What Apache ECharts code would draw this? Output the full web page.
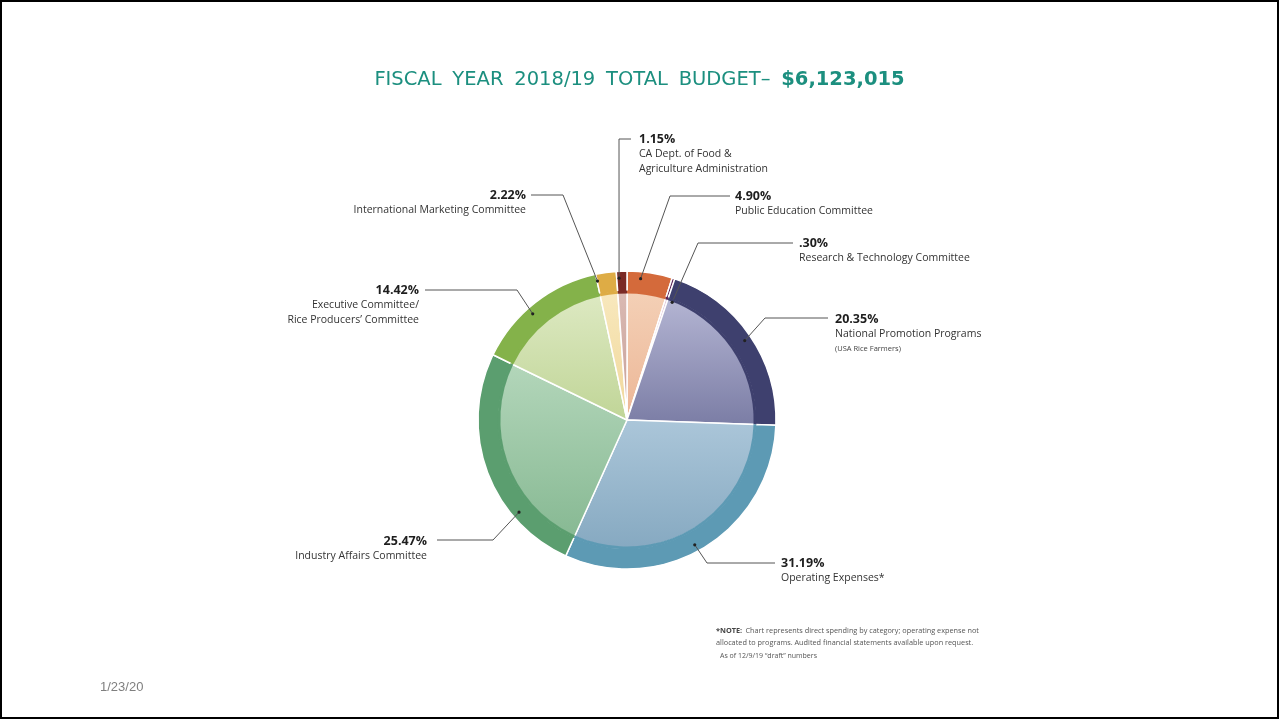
<!DOCTYPE html>
<html><head><meta charset="utf-8">
<script src="https://cdn.jsdelivr.net/npm/echarts@6/dist/echarts.min.js"></script>
<style>html,body{margin:0;padding:0;background:#fff}#c{width:1279px;height:719px}</style>
</head><body><div id="c"></div>
<script>
// ---- data ----
const categories = [
  'Public Education Committee',
  'Research & Technology Committee',
  'National Promotion Programs',
  'Operating Expenses*',
  'Industry Affairs Committee',
  'Executive Committee/\nRice Producers\u2019 Committee',
  'International Marketing Committee',
  'CA Dept. of Food &\nAgriculture Administration'
];
const subNotes = ['', '', '(USA Rice Farmers)', '', '', '', '', ''];
const shares = [4.90, 0.30, 20.35, 31.19, 25.47, 14.42, 2.22, 1.15];
const titleWords = ['FISCAL', 'YEAR', '2018/19', 'TOTAL', 'BUDGET\u2013'];
const totalText = '$6,123,015';
const noteLines = ['Chart represents direct spending by category; operating expense not',
  'allocated to programs. Audited financial statements available upon request.'];
const asOfText = 'As of 12/9/19 \u201cdraft\u201d numbers';
const dateText = '1/23/20';

// ---- styles / layout ----
const ringColors = ['#d46a3b','#5a2458','#3e406e','#5d9ab4','#5b9e6f','#84b24a','#deac45','#7b2a26'];
const innerTop =    ['#f4d0b6','#dcc0d6','#b4b5d3','#abc6d9','#b3d6ba','#dde9c2','#f8e8bd','#dabab3'];
const innerBottom = ['#ecb696','#cfa9c5','#7b7da5','#86a9c1','#87b993','#c0d597','#f0d79a','#c69e97'];
const CX = 627, CY = 420, R_OUT = 149, R_IN = 128;
const labelSpec = [
  {anchor: 5.5,   r: 142, elbow: [670,196], end: [730,196], x: 735, top: 188.5, align: 'left'},
  {anchor: 21,    r: 126, elbow: [698,243], end: [793,243], x: 799, top: 236,   align: 'left'},
  {anchor: 56,    r: 142, elbow: [765,318], end: [828,318], x: 835, top: 311.5, align: 'left'},
  {anchor: 151.5, r: 142, elbow: [707,563], end: [775,563], x: 781, top: 555.5, align: 'left'},
  {anchor: 229.5, r: 142, elbow: [493,540], end: [437,540], x: 427, top: 533.5, align: 'right'},
  {anchor: 318.4, r: 142, elbow: [517,290], end: [425,290], x: 419, top: 282.5, align: 'right'},
  {anchor: 348,   r: 142, elbow: [563,195], end: [531,195], x: 526, top: 187.5, align: 'right'},
  {anchor: 356.8, r: 142, elbow: [619,139], end: [631,139], x: 639, top: 131.5, align: 'left'}
];
function anchorPt(s) {
  const a = s.anchor * Math.PI / 180;
  return [CX + s.r * Math.sin(a), CY - s.r * Math.cos(a)];
}
function pct(v) { return v < 1 ? v.toFixed(2).replace(/^0/, '') : v.toFixed(2); }

const FONT = '"Open Sans", sans-serif';
const TFONT = '"DejaVu Sans", sans-serif';
const chart = echarts.init(document.getElementById('c'), null, {renderer: 'canvas'});

const ringData = categories.map((n, i) => ({name: n, value: shares[i], itemStyle: {color: ringColors[i]}}));
const innerData = categories.map((n, i) => ({name: n, value: shares[i], itemStyle: {
  color: new echarts.graphic.LinearGradient(0, 0, 0, 1, [{offset: 0, color: innerTop[i]}, {offset: 1, color: innerBottom[i]}])
}}));

const dots = labelSpec.map(s => {
  const p = anchorPt(s);
  return {type: 'circle', z: 100, silent: true, shape: {cx: p[0], cy: p[1], r: 1.6}, style: {fill: '#222'}};
});

const titleRich = titleWords.map((w, i) => '{a|' + w + '}' + (i < titleWords.length - 1 ? '{g| }' : '')).join('') + '{g| }{b|' + totalText + '}';

chart.setOption({
  animation: false,
  backgroundColor: '#fff',
  title: {
    text: titleRich,
    left: 'center', top: 65,
    textStyle: {rich: {
      a: {fontFamily: TFONT, fontSize: 19.5, fontWeight: 'normal', color: '#1c8f7f'},
      g: {fontFamily: TFONT, fontSize: 19.5, color: '#1c8f7f', padding: [0, 2, 0, 2]},
      b: {fontFamily: TFONT, fontSize: 19.5, fontWeight: 'bold', color: '#1c8f7f'}
    }}
  },
  series: [
    {
      type: 'pie', z: 1, silent: true, center: [CX, CY], radius: [0, R_IN], startAngle: 90, clockwise: true,
      label: {show: false}, labelLine: {show: false},
      itemStyle: {borderColor: '#fff', borderWidth: 1.5},
      data: innerData
    },
    {
      type: 'pie', z: 2, silent: true, center: [CX, CY], radius: [R_IN, R_OUT], startAngle: 90, clockwise: true,
      label: {show: false}, labelLine: {show: false},
      itemStyle: {borderColor: '#fff', borderWidth: 1.5},
      data: ringData
    },
    {
      type: 'pie', z: 3, silent: true, center: [CX, CY], radius: [R_IN - 1.4, R_IN + 1.4], startAngle: 90, clockwise: true,
      itemStyle: {borderWidth: 0},
      data: ringData,
      label: {
        show: true, position: 'outside',
        formatter: function (p) {
          const i = p.dataIndex;
          let s = '{p|' + pct(shares[i]) + '%}';
          categories[i].split('\n').forEach(l => { s += '\n{n|' + l + '}'; });
          if (subNotes[i]) s += '\n{s|' + subNotes[i] + '}';
          return s;
        },
        rich: {
          p: {fontFamily: FONT, fontSize: 12.5, fontWeight: 'bold', color: '#1e1e1e', lineHeight: 15},
          n: {fontFamily: FONT, fontSize: 10.5, color: '#333', lineHeight: 15},
          s: {fontFamily: FONT, fontSize: 7.5, color: '#444', lineHeight: 15}
        }
      },
      labelLine: {show: true, length: 10, length2: 10, smooth: false, lineStyle: {color: '#555', width: 1}},
      labelLayout: function (params) {
        const s = labelSpec[params.dataIndex];
        return {
          x: s.x, y: s.top, align: s.align, verticalAlign: 'top',
          labelLinePoints: [anchorPt(s), s.elbow, s.end]
        };
      }
    }
  ],
  graphic: dots.concat([
    {type: 'rect', z: 100, silent: true, shape: {x: 1, y: 1, width: 1277, height: 717},
     style: {fill: 'none', stroke: '#000', lineWidth: 2}},
    {type: 'text', z: 100, silent: true, x: 716, y: 625,
     style: {text: '{b|*NOTE:} {t|' + noteLines[0] + '}\n{t|' + noteLines[1] + '}',
       rich: {b: {fontFamily: FONT, fontSize: 7.3, fontWeight: 'bold', fill: '#444', lineHeight: 11},
              t: {fontFamily: FONT, fontSize: 7.3, fill: '#555', lineHeight: 11}}}},
    {type: 'text', z: 100, silent: true, x: 720, y: 652,
     style: {text: asOfText, fontFamily: FONT, fontSize: 7, fill: '#555'}},
    {type: 'text', z: 100, silent: true, x: 100, y: 681,
     style: {text: dateText, fontFamily: '"Liberation Sans", Arial, sans-serif', fontSize: 13, fill: '#7f7f7f'}}
  ])
});
</script></body></html>
